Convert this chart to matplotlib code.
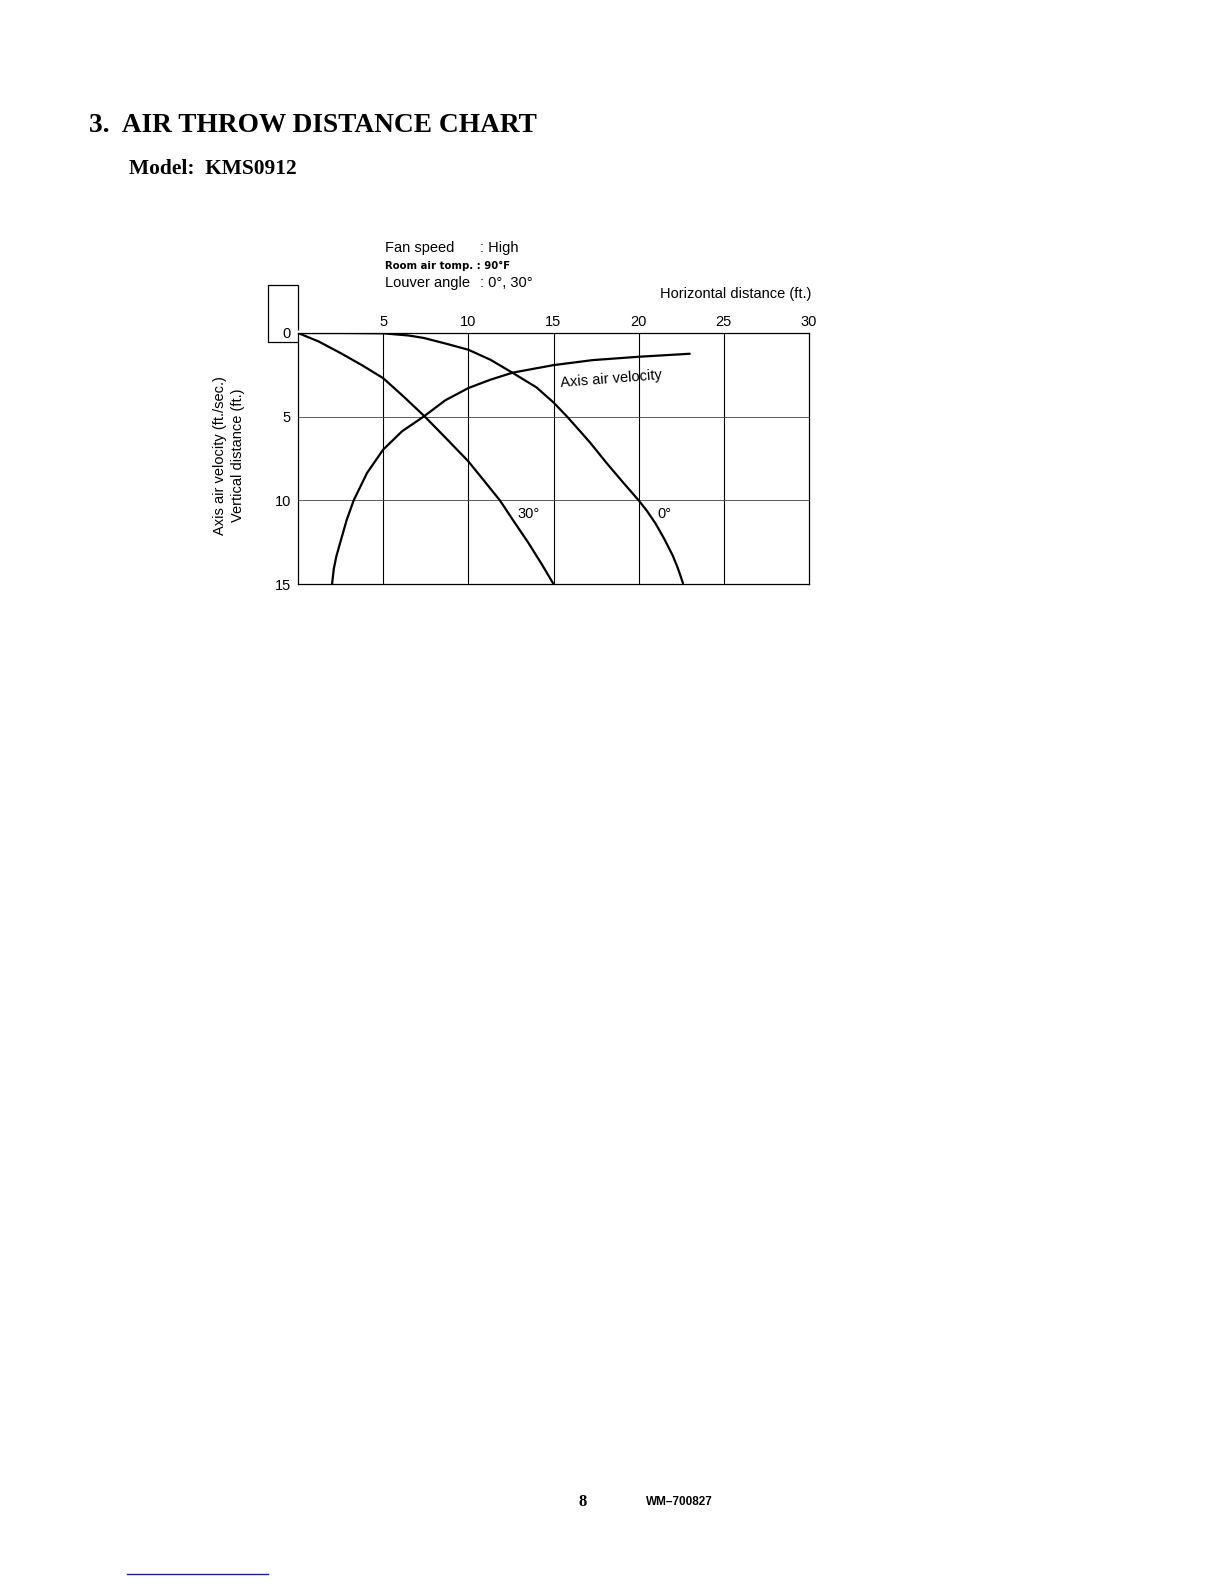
import matplotlib.pyplot as plt
from matplotlib.patches import Polygon

plt.rcParams['font.family'] = ['Liberation Sans', 'DejaVu Sans']

# curves (ft)
x_0deg = [0, 2.5, 5, 6.5, 7.4, 8.7, 10, 11.3, 12.6, 14.0, 15, 15.8, 16.5, 17.15, 18.1, 19.1,
          20, 20.5, 21.0, 21.5, 22.0, 22.3, 22.6]
y_0deg = [0, 0, 0.02, 0.15, 0.3, 0.64, 1.0, 1.6, 2.38, 3.25, 4.15, 5.0, 5.8, 6.55, 7.75, 8.95,
          10.0, 10.65, 11.4, 12.3, 13.3, 14.05, 14.95]

x_30deg = [0, 1.2, 2.5, 3.8, 5, 6.2, 7.45, 8.7, 10, 10.9, 11.85, 12.7, 13.5, 14.3, 15]
y_30deg = [0, 0.5, 1.2, 1.95, 2.7, 3.8, 5.0, 6.3, 7.67, 8.8, 10.0, 11.3, 12.5, 13.8, 15.0]

x_vel = [2.0, 2.1, 2.25, 2.5, 2.85, 3.27, 4.05, 5, 6.1, 7.37, 8.65, 10, 11.3, 12.6, 15, 17.3, 20, 23]
y_vel = [15, 14.1, 13.35, 12.45, 11.2, 10.0, 8.37, 6.97, 5.88, 5.0, 4.02, 3.29, 2.79, 2.37, 1.92, 1.62, 1.42, 1.24]

x_ticks = [5, 10, 15, 20, 25, 30]
y_ticks = [0, 5, 10, 15]

W, H = 1224, 1584
fig = plt.figure(figsize=(W / 100, H / 100), dpi=100)

fig.text(89 / W, 1 - 125 / H, '3.  AIR THROW DISTANCE CHART', family='Liberation Serif',
         weight='bold', fontsize=19.7, va='center', ha='left')
fig.text(129 / W, 1 - 169 / H, 'Model:  KMS0912', family='Liberation Serif',
         weight='bold', fontsize=15.4, va='center', ha='left')

ax = fig.add_axes([298 / W, 1 - 584 / H, 511 / W, 251 / H])
ax.set_xlim(0, 30)
ax.set_ylim(15, 0)
ax.xaxis.tick_top()
ax.set_xticks(x_ticks)
ax.set_yticks(y_ticks)
ax.tick_params(length=0, labelsize=10.5, colors='black')
ax.tick_params(axis='x', pad=3)
ax.tick_params(axis='y', pad=5)
for s in ax.spines.values():
    s.set_linewidth(0.9)

for xv in x_ticks[:-1]:
    ax.axvline(xv, color='black', lw=0.8)
for yv in [5, 10]:
    ax.axhline(yv, color='#444444', lw=0.6)

for xs, ys in [(x_0deg, y_0deg), (x_30deg, y_30deg), (x_vel, y_vel)]:
    ax.plot(xs, ys, color='black', lw=1.6, solid_joinstyle='round', solid_capstyle='round')

ax.text(15.4, 2.75, 'Axis air velocity', fontsize=10.5, rotation=4.5, ha='left', va='center')
ax.text(12.9, 10.8, '30°', fontsize=10.5, ha='left', va='center')
ax.text(21.1, 10.8, '0°', fontsize=10.5, ha='left', va='center')

# small unit box at top left
box = Polygon([(0, -0.2), (0, -2.87), (-1.76, -2.87), (-1.76, 0.52), (0, 0.52)],
              closed=False, fill=False, edgecolor='black', lw=0.9, clip_on=False)
ax.add_patch(box)

ax.text(30.15, -2.33, 'Horizontal distance (ft.)', fontsize=10.5, ha='right', va='center')

ax.text(5.1, -5.05, 'Fan speed', fontsize=10.5, ha='left', va='center')
ax.text(10.7, -5.05, ': High', fontsize=10.5, ha='left', va='center')
ax.text(5.1, -4.02, 'Room air tomp. : 90°F', family='DejaVu Sans', fontsize=7.3,
        weight='bold', ha='left', va='center')
ax.text(5.1, -3.0, 'Louver angle', fontsize=10.5, ha='left', va='center')
ax.text(10.7, -3.0, ': 0°, 30°', fontsize=10.5, ha='left', va='center')

ax.text(-4.05, 7.3, 'Axis air velocity (ft./sec.)\nVertical distance (ft.)', fontsize=10.5,
        rotation=90, ha='center', va='center', linespacing=1.4)

fig.text(583 / W, 1 - 1502 / H, '8', family='Liberation Serif', weight='bold',
         fontsize=12, ha='center', va='center')
fig.text(646 / W, 1 - 1502 / H, 'WM\u2013700827', weight='bold', fontsize=8.5,
         ha='left', va='center')

fig.add_artist(plt.Line2D([127 / W, 268 / W], [1 - 1574 / H, 1 - 1574 / H],
                          color='#1a1aa0', lw=1))

fig.savefig('out.png', dpi=100)
